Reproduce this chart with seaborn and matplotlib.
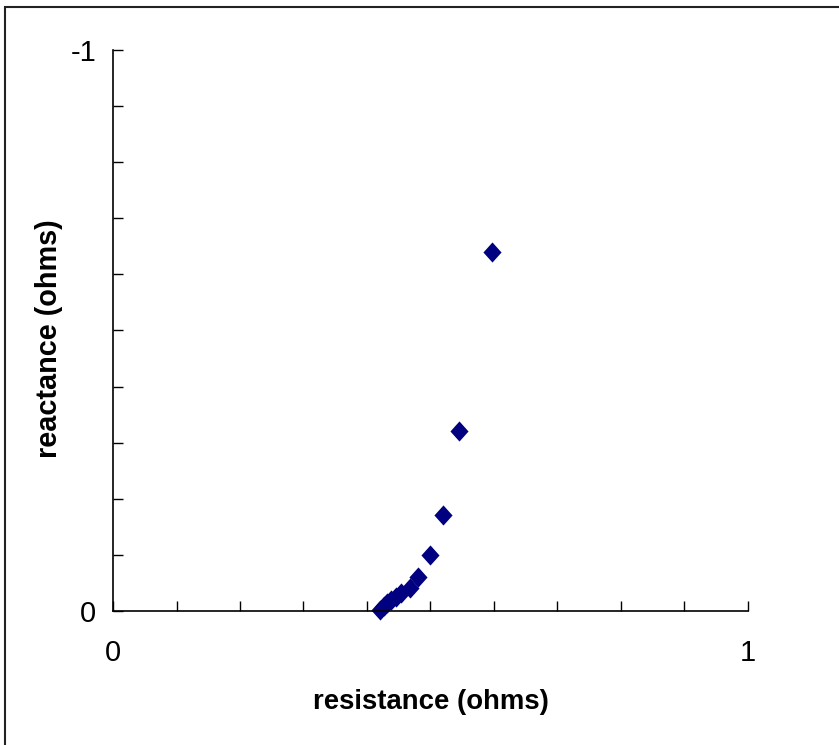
import matplotlib.pyplot as plt
import matplotlib.patches as mpatches
import numpy as np
import pandas as pd
import seaborn as sns

# impedance points
resistance = [0.420, 0.426, 0.432, 0.438, 0.446, 0.454, 0.468, 0.480, 0.499, 0.520, 0.545, 0.597]
reactance = [-0.002, -0.009, -0.014, -0.020, -0.025, -0.032, -0.041, -0.061, -0.100, -0.171, -0.321, -0.640]

x_ticks = [0, 1]
x_tick_labels = ["0", "1"]
y_ticks = [-1, 0]
y_tick_labels = ["-1", "0"]

df = pd.DataFrame({"resistance": resistance, "reactance": reactance})

sns.set_theme(style="white")
plt.rcParams["font.family"] = ["Liberation Sans", "DejaVu Sans"]
plt.rcParams["axes.unicode_minus"] = False
plt.rcParams["text.color"] = "black"
plt.rcParams["axes.labelcolor"] = "black"
plt.rcParams["xtick.color"] = "black"
plt.rcParams["ytick.color"] = "black"

fig = plt.figure(figsize=(8.39, 7.45), dpi=100)
ax = fig.add_axes([0.1347, 0.1799, 0.7568, 0.7530])

diamond = [(0, 1), (0.9, 0), (0, -1), (-0.9, 0), (0, 1)]
sns.scatterplot(data=df, x="resistance", y="reactance", ax=ax, marker=diamond,
                s=210, color="#000080", linewidth=0, clip_on=False, legend=False)

ax.set_xlim(0, 1)
ax.set_ylim(0, -1)
ax.set_xticks(x_ticks, labels=x_tick_labels)
ax.set_yticks(y_ticks, labels=y_tick_labels)
ax.set_xticks(np.arange(0.1, 1.0, 0.1), minor=True)
ax.set_yticks(-np.arange(0.1, 1.0, 0.1), minor=True)
ax.tick_params(axis="both", which="both", direction="in", length=7, width=1,
               color="black", labelcolor="black", labelsize=21,
               bottom=True, left=True)
ax.tick_params(axis="x", which="major", pad=20)
ax.tick_params(axis="y", which="major", pad=12)

for side in ["top", "right"]:
    ax.spines[side].set_visible(False)
for side in ["left", "bottom"]:
    ax.spines[side].set_color("black")
    ax.spines[side].set_linewidth(1.2)

ax.set_xlabel("resistance (ohms)", fontsize=19.8, fontweight="bold", labelpad=16)
ax.set_ylabel("reactance (ohms)", fontsize=20.8, fontweight="bold")
ax.yaxis.set_label_coords(-0.078, 0.485)

# outer chart frame (left and top edges visible)
fig.patches.append(mpatches.Rectangle((5 / 839, -0.05), 1.2, 1 - 7 / 745 + 0.05,
                                      transform=fig.transFigure, fill=False,
                                      edgecolor="#222222", linewidth=1.5))

fig.savefig("out.png", dpi=100)
